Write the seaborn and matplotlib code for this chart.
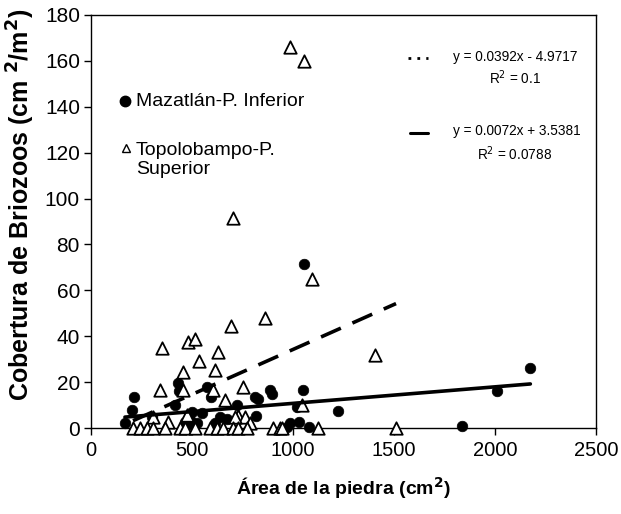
import matplotlib
matplotlib.use("Agg")
import matplotlib.pyplot as plt
import seaborn as sns
import numpy as np
import pandas as pd

# ---- data ----
maz_x = [168, 203, 213, 300, 416, 431, 436, 465, 490, 500, 505, 525, 550, 574, 594,
         614, 639, 673, 723, 812, 827, 817, 886, 896, 970, 985, 1020, 1030, 1049,
         1054, 1079, 1223, 1837, 2010, 2175]
maz_y = [2.2, 8.0, 13.5, 5.0, 10.0, 19.6, 16.0, 2.6, 3.5, 7.0, 1.3, 2.2, 6.5, 18.0, 13.5,
         2.0, 4.8, 4.0, 10.0, 13.5, 12.5, 5.2, 16.5, 15.0, 0.4, 2.0, 9.0, 2.6, 16.6,
         71.5, 0.5, 7.4, 1.0, 16.0, 26.0]

top_x = [985, 1054, 703, 1094, 861, 693, 351, 1406, 480, 515, 535, 456, 342, 456,
         627, 614, 752, 604, 663, 727, 762, 787, 1045, 381, 307, 475, 713,
         208, 243, 277, 307, 366, 441, 465, 515, 589, 624, 653, 703, 728, 772,
         901, 936, 945, 1124, 1510]
top_y = [166, 160, 91.5, 65, 48, 44.5, 35, 32, 37.5, 39, 29, 24.4, 16.6, 16.6,
         33, 25.3, 18, 16.6, 12, 5.2, 4.8, 2, 10, 2.6, 5, 5.7, 5,
         0, 0, 0, 0, 0, 0, 0, 0, 0, 0, 0, 0, 0, 0,
         0, 0, 0, 0, 0]

# published trend lines
top_slope, top_intercept = 0.0392, -4.9717
maz_slope, maz_intercept = 0.0072, 3.5381

series_names = ["Mazatlán-P. Inferior", "Topolobampo-P.\nSuperior"]
eq_top = ["y = 0.0392x - 4.9717", "R$^2$ = 0.1"]
eq_maz = ["y = 0.0072x + 3.5381", "R$^2$ = 0.0788"]

x_ticks = [0, 500, 1000, 1500, 2000, 2500]
y_ticks = list(range(0, 181, 20))

maz = pd.DataFrame({"x": maz_x, "y": maz_y})
top = pd.DataFrame({"x": top_x, "y": top_y})

sns.set_theme(style="white")
plt.rcParams["font.family"] = ["Liberation Sans", "DejaVu Sans"]
plt.rcParams["text.color"] = "black"
plt.rcParams["axes.labelcolor"] = "black"
plt.rcParams["xtick.color"] = "black"
plt.rcParams["ytick.color"] = "black"

fig = plt.figure(figsize=(6.21, 5.14), dpi=100)
ax = fig.add_axes([91 / 621, 1 - 428 / 514, 505 / 621, 413 / 514])

sns.scatterplot(data=maz, x="x", y="y", ax=ax, marker="o", s=58, color="black",
                edgecolor="black", linewidth=0.5, zorder=3, clip_on=False)
sns.scatterplot(data=top, x="x", y="y", ax=ax, marker="^", s=80, facecolor="white",
                edgecolor="black", linewidth=1.3, zorder=4, clip_on=False)

tx = np.array([min(top_x), max(top_x)], dtype=float)
mx = np.array([min(maz_x), max(maz_x)], dtype=float)
sns.lineplot(x=tx, y=top_slope * tx + top_intercept, ax=ax, color="black",
             linewidth=2.6, zorder=5)
ax.lines[-1].set_dashes([6, 3.5])
sns.lineplot(x=mx, y=maz_slope * mx + maz_intercept, ax=ax, color="black",
             linewidth=2.6, zorder=5)

ax.set_xlim(0, 2500)
ax.set_ylim(0, 180)
ax.set_xticks(x_ticks)
ax.set_yticks(y_ticks)
ax.tick_params(axis="both", which="major", direction="out", length=5, width=1,
               color="black", labelcolor="black", pad=4, bottom=True, left=True)
ax.tick_params(axis="x", labelsize=14.5)
ax.tick_params(axis="y", labelsize=15, pad=3)
for sp in ax.spines.values():
    sp.set_visible(True)
    sp.set_color("black")
    sp.set_linewidth(1)

ax.set_xlabel("Área de la piedra (cm$^\\mathbf{2}$)", fontsize=14, fontweight="bold",
              labelpad=11, color="black")
ax.set_ylabel("Cobertura de Briozoos (cm $^\\mathbf{2}$/m$^\\mathbf{2}$)", fontsize=18,
              fontweight="bold", color="black")

def fx(px):
    return (px - 91) / 505

def fy(py):
    return (428 - py) / 413

ax.yaxis.set_label_coords(fx(37), fy(205))

# legend (manual)
ax.plot([fx(125)], [fy(101)], marker="o", markersize=7.5, color="black",
        transform=ax.transAxes, clip_on=False)
ax.text(fx(136), fy(101), series_names[0], transform=ax.transAxes, fontsize=14,
        va="center", ha="left", color="black")
ax.plot([fx(126)], [fy(148)], marker="^", markersize=6, markerfacecolor="white",
        markeredgecolor="black", markeredgewidth=1, transform=ax.transAxes,
        clip_on=False)
ax.text(fx(136), fy(160), series_names[1], transform=ax.transAxes, fontsize=14,
        va="center", ha="left", linespacing=1.2, color="black")

# trend-line equations
ax.plot([fx(408), fx(428)], [fy(58), fy(58)], transform=ax.transAxes, color="black",
        linewidth=2, linestyle=(0, (1, 2.2)))
ax.text(fx(515), fy(57), eq_top[0], transform=ax.transAxes, fontsize=9.8,
        ha="center", va="center", color="black")
ax.text(fx(515), fy(78), eq_top[1], transform=ax.transAxes, fontsize=9.8,
        ha="center", va="center", color="black")
ax.plot([fx(410), fx(428)], [fy(133), fy(133)], transform=ax.transAxes,
        color="black", linewidth=2.2)
ax.text(fx(517), fy(131), eq_maz[0], transform=ax.transAxes, fontsize=9.8,
        ha="center", va="center", color="black")
ax.text(fx(515), fy(154), eq_maz[1], transform=ax.transAxes, fontsize=9.8,
        ha="center", va="center", color="black")

fig.savefig("out.png", dpi=100)
